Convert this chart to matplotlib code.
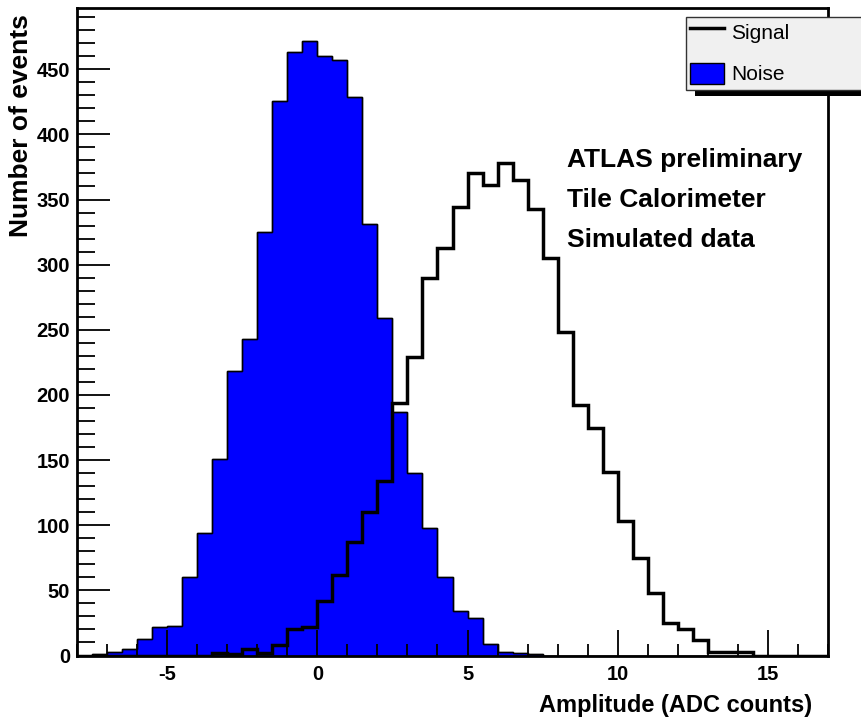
import numpy as np
import matplotlib.pyplot as plt
from matplotlib.patches import Rectangle

plt.rcParams['font.family'] = ['Liberation Sans', 'DejaVu Sans']
plt.rcParams['font.weight'] = 'bold'
plt.rcParams['axes.labelweight'] = 'bold'
plt.rcParams['axes.unicode_minus'] = False

# bin edges: -8 .. 17 in steps of 0.5 (50 bins)
bin_edges = np.arange(-8.0, 17.01, 0.5)

# Noise histogram contents (one value per bin)
noise = [0, 1, 3, 5, 13, 22, 23, 60, 94, 151,
         218, 243, 325, 426, 463, 472, 460, 457, 429, 331,
         259, 187, 140, 98, 60, 34, 29, 9, 3, 2,
         1, 0, 0, 0, 0, 0, 0, 0, 0, 0,
         0, 0, 0, 0, 0, 0, 0, 0, 0, 0]

# Signal histogram contents
signal = [0, 0, 0, 0, 0, 0, 0, 0, 0, 2,
          1, 5, 2, 8, 20, 22, 42, 62, 87, 110,
          134, 194, 229, 290, 313, 344, 370, 361, 378, 365,
          343, 305, 248, 192, 175, 141, 103, 75, 48, 25,
          20, 12, 3, 3, 3, 0, 0, 0, 0, 0]

fig = plt.figure(figsize=(8.61, 7.22), dpi=100)
ax = fig.add_axes([77 / 861, 1 - 655.5 / 722, 751 / 861, 647.5 / 722])

h_noise = ax.stairs(noise, bin_edges, fill=True, facecolor='#0000ff', edgecolor='black',
                    linewidth=1.0, label='Noise')
ax.stairs(noise, bin_edges, color='black', linewidth=1.0)
h_signal = ax.stairs(signal, bin_edges, color='black', linewidth=2.5, label='Signal')

ax.set_xlim(-8, 17)
ax.set_ylim(0, 497)

ax.set_xticks([-5, 0, 5, 10, 15])
ax.set_xticks(np.arange(-8, 18, 1), minor=True)
ax.set_yticks(np.arange(0, 451, 50))
ax.set_yticks(np.arange(0, 491, 10), minor=True)
ax.tick_params(axis='both', which='both', direction='in', top=False, right=False,
               width=1.3, labelsize=14.5)
ax.tick_params(axis='x', which='major', length=19, pad=7)
ax.tick_params(axis='x', which='minor', length=9)
ax.tick_params(axis='y', which='major', length=24, pad=5)
ax.tick_params(axis='y', which='minor', length=13)
for sp in ax.spines.values():
    sp.set_linewidth(2)

ax.set_xlabel('Amplitude (ADC counts)', fontsize=17, ha='right')
ax.xaxis.set_label_coords((812 - 77) / 751, -0.06)
ax.set_ylabel('Number of events', fontsize=19)
ax.yaxis.label.set_horizontalalignment('right')
ax.yaxis.label.set_verticalalignment('center')
ax.yaxis.set_label_coords((21 - 77) / 751, 0.99)

ax.text(0.652, 0.7035, 'ATLAS preliminary\nTile Calorimeter\nSimulated data',
        transform=ax.transAxes, fontsize=19, fontweight='bold',
        va='center', ha='left', linespacing=1.84)

# legend box with shadow, partly cut by the figure edge
fig.patches.append(Rectangle((695 / 861, 1 - 96 / 722), 0.3, 8 / 722,
                             transform=fig.transFigure, facecolor='black',
                             edgecolor='none', zorder=5))
fig.patches.append(Rectangle((686 / 861, 1 - 90 / 722), 0.3, 73.5 / 722,
                             transform=fig.transFigure, facecolor='#f0f0f0',
                             edgecolor='#333333', linewidth=1, zorder=6))
leg = fig.legend(handles=[h_signal, h_noise], labels=['Signal', 'Noise'],
                 loc='upper left', bbox_to_anchor=(690 / 861, 1 - 21 / 722),
                 frameon=False, fontsize=15, handlelength=1.63, handleheight=1.2,
                 handletextpad=0.35, labelspacing=0.95, borderaxespad=0,
                 borderpad=0)
leg.set_zorder(7)
for t in leg.get_texts():
    t.set_fontweight('normal')

fig.savefig('out.png', dpi=100)
